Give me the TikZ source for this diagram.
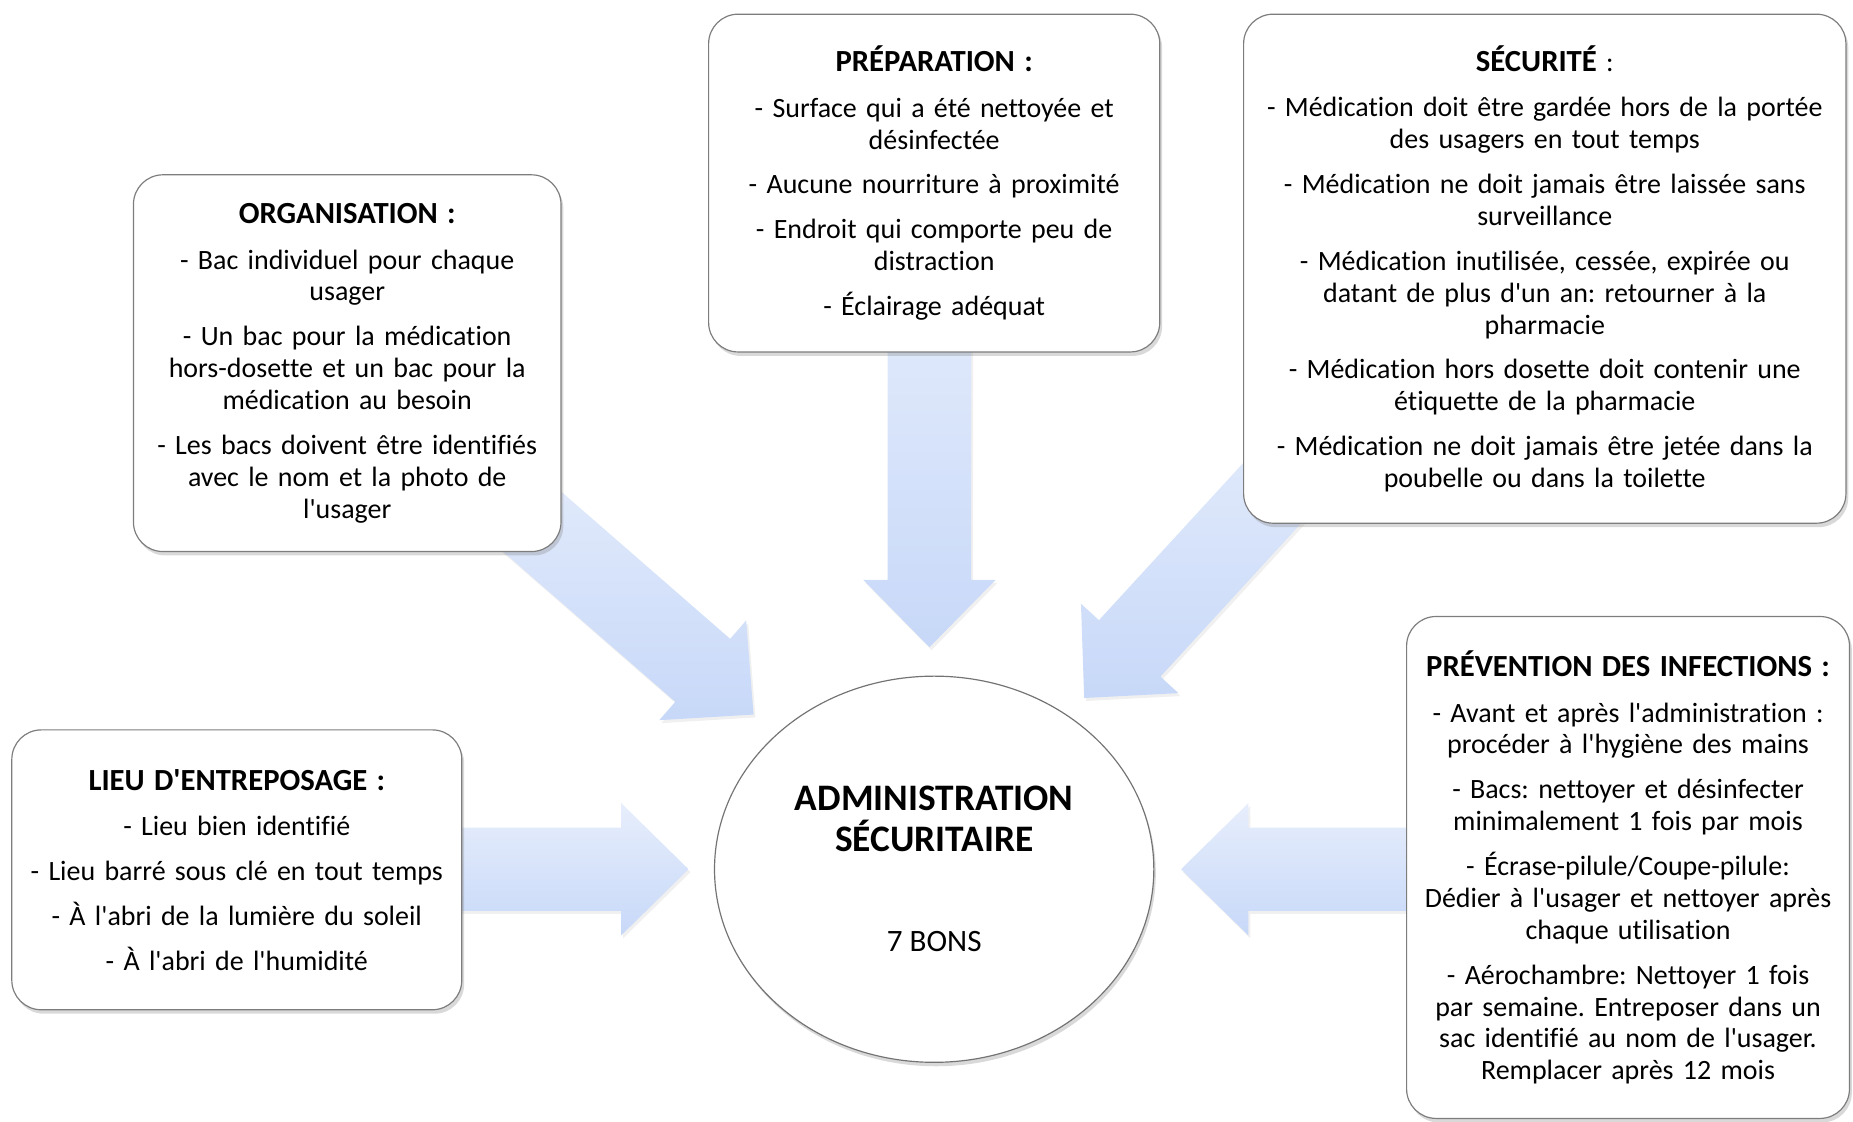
\documentclass[tikz,border=0pt]{standalone}
\usepackage{fontspec}
\setmainfont{Carlito}[Ligatures=NoCommon]
\usetikzlibrary{calc,shadows,shapes.geometric}

\definecolor{arrowtop}{RGB}{231,238,252}
\definecolor{arrowbot}{RGB}{199,216,248}
\definecolor{boxline}{RGB}{125,125,125}

\tikzset{
  infobox/.style={draw=boxline, line width=0.6pt, fill=white, rounded corners=15pt,
    align=center, inner sep=2pt, font=\fontsize{14.2}{16.2}\selectfont,
    drop shadow={opacity=0.3, shadow xshift=1.2pt, shadow yshift=-2pt}},
  bigarrow/.style={top color=arrowtop, bottom color=arrowbot, draw=none,
    drop shadow={opacity=0.12, shadow xshift=1pt, shadow yshift=-1.5pt}},
}

\newcommand{\heading}[1]{{\fontsize{15.6}{16.2}\selectfont\bfseries #1}}
\newcommand{\ap}{\textquotesingle}

% block arrow from #1 (tail) to #2 (tip)
\newcommand{\blockarrow}[2]{%
  \path[bigarrow] (#2)
    -- ($(#2)!34.2pt!(#1)!33.6pt!90:(#1)$)
    -- ($(#2)!34.2pt!(#1)!21.2pt!90:(#1)$)
    -- ($(#1)!21.2pt!-90:(#2)$)
    -- ($(#1)!21.2pt!90:(#2)$)
    -- ($(#2)!34.2pt!(#1)!21.2pt!-90:(#1)$)
    -- ($(#2)!34.2pt!(#1)!33.6pt!-90:(#1)$)
    -- cycle;}

\frenchspacing
\begin{document}
\begin{tikzpicture}[x=0.6pt, y=-0.6pt]
  \useasboundingbox (0,0) rectangle (1569,950);

  % arrow ends
  \coordinate (orgS) at (389,388);
  \coordinate (orgT) at (638,605);
  \coordinate (prepS) at (787,200);
  \coordinate (prepT) at (787,548);
  \coordinate (secS) at (1141,348);
  \coordinate (secT) at (918,591);
  \coordinate (lieuS) at (300,736);
  \coordinate (lieuT) at (583,736);
  \coordinate (prevS) at (1300,736);
  \coordinate (prevT) at (1000,736);

  \blockarrow{orgS}{orgT}
  \blockarrow{prepS}{prepT}
  \blockarrow{secS}{secT}
  \blockarrow{lieuS}{lieuT}
  \blockarrow{prevS}{prevT}

  \node[infobox, minimum width=217.2pt, minimum height=191.4pt, text width=211pt] (org) at (294,307.5)
    {\heading{ORGANISATION :}\\[7pt]
     - Bac individuel pour chaque\\usager\\[6.6pt]
     - Un bac pour la médication\\hors-dosette et un bac pour la\\médication au besoin\\[6.6pt]
     - Les bacs doivent être identifiés\\avec le nom et la photo de\\l\ap usager};

  \node[infobox, minimum width=229.2pt, minimum height=171.6pt, text width=223pt] (prep) at (791,155)
    {\heading{PRÉPARATION :}\\[7pt]
     - Surface qui a été nettoyée et\\désinfectée\\[6.6pt]
     - Aucune nourriture à proximité\\[6.6pt]
     - Endroit qui comporte peu de\\distraction\\[6.6pt]
     - Éclairage adéquat};

  \node[infobox, minimum width=306pt, minimum height=258.6pt, text width=300pt] (sec) at (1308,227.5)
    {\heading{SÉCURITÉ} :\\[7pt]
     - Médication doit être gardée hors de la portée\\des usagers en tout temps\\[6.6pt]
     - Médication ne doit jamais être laissée sans\\surveillance\\[6.6pt]
     - Médication inutilisée, cessée, expirée ou\\datant de plus d\ap un an: retourner à la\\pharmacie\\[6.6pt]
     - Médication hors dosette doit contenir une\\étiquette de la pharmacie\\[6.6pt]
     - Médication ne doit jamais être jetée dans la\\poubelle ou dans la toilette};

  \node[infobox, minimum width=228.6pt, minimum height=142.2pt, text width=222pt] (lieu) at (200.5,736.5)
    {\heading{LIEU D\ap ENTREPOSAGE :}\\[7pt]
     - Lieu bien identifié\\[6.6pt]
     - Lieu barré sous clé en tout temps\\[6.6pt]
     - À l\ap abri de la lumière du soleil\\[6.6pt]
     - À l\ap abri de l\ap humidité};

  \node[infobox, minimum width=225pt, minimum height=255pt, text width=219pt] (prev) at (1378.5,734.5)
    {\heading{PRÉVENTION DES INFECTIONS :}\\[7pt]
     - Avant et après l\ap administration :\\procéder à l\ap hygiène des mains\\[6.6pt]
     - Bacs: nettoyer et désinfecter\\minimalement 1 fois par mois\\[6.6pt]
     - Écrase-pilule/Coupe-pilule:\\Dédier à l\ap usager et nettoyer après\\chaque utilisation\\[6.6pt]
     - Aérochambre: Nettoyer 1 fois\\par semaine. Entreposer dans un\\sac identifié au nom de l\ap usager.\\Remplacer après 12 mois};

  \node[ellipse, draw=black!55, line width=0.6pt, fill=white, minimum width=223.2pt, minimum height=196.2pt,
        align=center, font=\fontsize{19}{20.4}\selectfont,
        drop shadow={opacity=0.3, shadow xshift=1pt, shadow yshift=-2pt}] (admin) at (791,736)
    {\textbf{ADMINISTRATION}\\\textbf{SÉCURITAIRE}\\[30.8pt]{\fontsize{15.8}{18}\selectfont 7 BONS}};
\end{tikzpicture}
\end{document}
